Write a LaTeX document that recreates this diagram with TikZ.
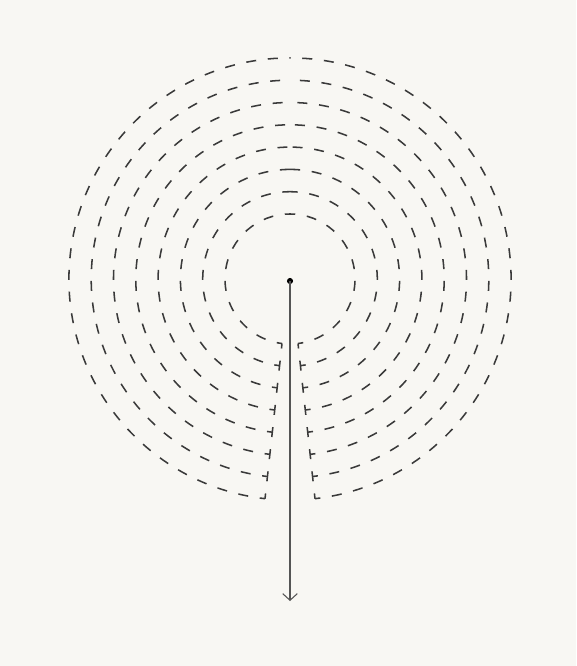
\documentclass[tikz,border=0pt]{standalone}
\usetikzlibrary{arrows.meta}

\definecolor{paper}{RGB}{248,247,243}
\definecolor{ink}{RGB}{58,58,58}
\definecolor{stem}{RGB}{85,85,85}

\tikzset{
  ring/.style={draw=ink, line width=1.15pt, dash pattern=on 7.5pt off 8.8pt, dash phase=3.5pt},
  side/.style={draw=ink, line width=1.15pt, dash pattern=on 7.5pt off 9.2pt, dash phase=3.75pt},
  hubdot/.style={circle, fill=black, inner sep=0pt, minimum size=4.6pt},
}

\begin{document}
\begin{tikzpicture}[x=0.75pt,y=0.75pt,yscale=-1,xscale=1]
%set diagram left start at 0, and has height of 666
\fill[paper] (0,0) rectangle (576,666);
\useasboundingbox (0,0) rectangle (576,666);

\coordinate (C) at (290,279);

%Shape: Arc (rings, open at the bottom; each drawn from both ends up to the top)
\draw[ring] (C) ++(82.93:65)    coordinate (r0) arc[start angle=82.93, end angle=-90, radius=65];
\draw[ring] (C) ++(97.07:65)    coordinate (l0) arc[start angle=97.07, end angle=270, radius=65];
\draw[ring] (C) ++(83.14:87.3)  coordinate (r1) arc[start angle=83.14, end angle=-90, radius=87.3];
\draw[ring] (C) ++(96.86:87.3)  coordinate (l1) arc[start angle=96.86, end angle=270, radius=87.3];
\draw[ring] (C) ++(83.26:109.6) coordinate (r2) arc[start angle=83.26, end angle=-90, radius=109.6];
\draw[ring] (C) ++(96.74:109.6) coordinate (l2) arc[start angle=96.74, end angle=270, radius=109.6];
\draw[ring] (C) ++(83.34:131.9) coordinate (r3) arc[start angle=83.34, end angle=-90, radius=131.9];
\draw[ring] (C) ++(96.66:131.9) coordinate (l3) arc[start angle=96.66, end angle=270, radius=131.9];
\draw[ring] (C) ++(83.40:154.2) coordinate (r4) arc[start angle=83.40, end angle=-90, radius=154.2];
\draw[ring] (C) ++(96.60:154.2) coordinate (l4) arc[start angle=96.60, end angle=270, radius=154.2];
\draw[ring] (C) ++(83.45:176.5) coordinate (r5) arc[start angle=83.45, end angle=-90, radius=176.5];
\draw[ring] (C) ++(96.55:176.5) coordinate (l5) arc[start angle=96.55, end angle=270, radius=176.5];
\draw[ring] (C) ++(83.48:198.8) coordinate (r6) arc[start angle=83.48, end angle=-90, radius=198.8];
\draw[ring] (C) ++(96.52:198.8) coordinate (l6) arc[start angle=96.52, end angle=270, radius=198.8];
\draw[ring] (C) ++(83.51:221.1) coordinate (r7) arc[start angle=83.51, end angle=-90, radius=221.1];
\draw[ring] (C) ++(96.49:221.1) coordinate (l7) arc[start angle=96.49, end angle=270, radius=221.1];

%Shape: Line (edges of the opening)
\draw[side] (l0) -- (l7);
\draw[side] (r0) -- (r7);

%Shape: Circle + arrow
\node[hubdot] (hub) at (290,281) {};
\coordinate (tip) at (290,601);
\draw[stem, line width=0.8pt, -{Straight Barb[length=5pt,width=11pt]}] (hub.center) -- (tip);

\end{tikzpicture}
\end{document}
